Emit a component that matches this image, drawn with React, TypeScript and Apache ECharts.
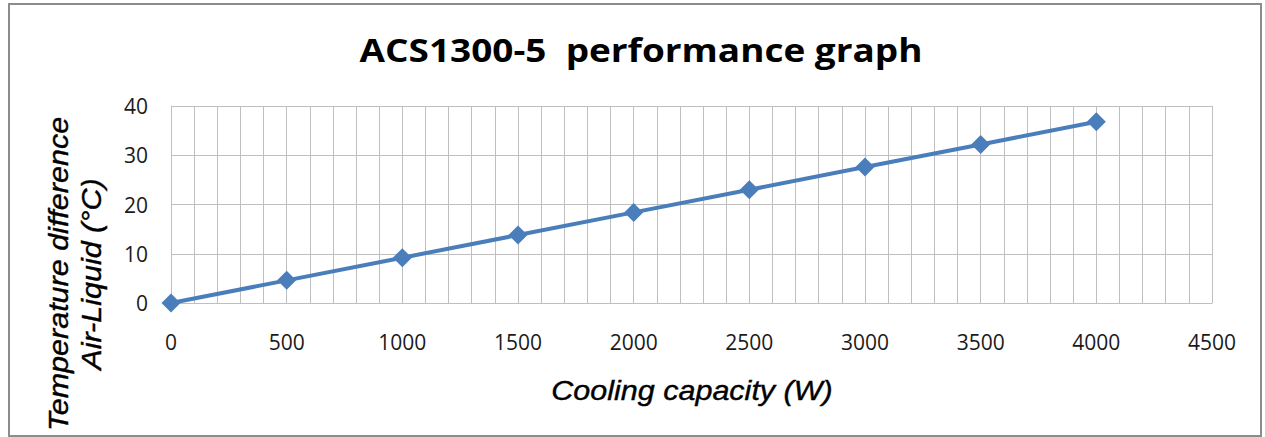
import React, { useEffect, useRef } from "react";
import * as echarts from "echarts";

const titleText = "ACS1300-5  performance graph";
const xAxisTitle = "Cooling capacity (W)";
const yAxisTitleLines = ["Temperature difference", "Air-Liquid (°C)"];

const coolingCapacity = [0, 500, 1000, 1500, 2000, 2500, 3000, 3500, 4000];
const tempDifference = [0, 4.6, 9.2, 13.8, 18.4, 23.0, 27.6, 32.2, 36.8];

const xMin = 0;
const xMax = 4500;
const xInterval = 500;
const yMin = 0;
const yMax = 40;
const yInterval = 10;

export default function App() {
  const ref = useRef<HTMLDivElement>(null);

  useEffect(() => {
    if (!ref.current) return;
    const chart = echarts.init(ref.current, null, { renderer: "svg" });
    const gridColor = "#BFBFBF";
    chart.setOption({
      animation: false,
      backgroundColor: "#ffffff",
      grid: { left: 171, top: 106, right: 53, bottom: 134, containLabel: false },
      xAxis: {
        type: "value",
        min: xMin,
        max: xMax,
        interval: xInterval,
        axisLine: { show: true, lineStyle: { color: gridColor, width: 1 } },
        axisTick: { show: false },
        minorTick: { show: false, splitNumber: 5 },
        minorSplitLine: { show: true, lineStyle: { color: gridColor, width: 1 } },
        splitLine: { show: true, lineStyle: { color: gridColor, width: 1 } },
        axisLabel: {
          margin: 28,
          fontFamily: "Open Sans",
          fontSize: 21,
          color: "#1a1a1a",
          showMinLabel: true,
          showMaxLabel: true,
          formatter: (v: number) => String(v),
        },
      },
      yAxis: {
        type: "value",
        min: yMin,
        max: yMax,
        interval: yInterval,
        axisLine: { show: true, lineStyle: { color: gridColor, width: 1 } },
        axisTick: { show: false },
        splitLine: { show: true, lineStyle: { color: gridColor, width: 1 } },
        axisLabel: {
          margin: 23,
          fontFamily: "Open Sans",
          fontSize: 21,
          color: "#1a1a1a",
          formatter: (v: number) => String(v),
        },
      },
      series: [
        {
          type: "line",
          data: coolingCapacity.map((x, i) => [x, tempDifference[i]]),
          symbol: "diamond",
          symbolSize: 19,
          showSymbol: true,
          lineStyle: { color: "#4A7EBB", width: 4 },
          itemStyle: { color: "#4A7EBB" },
          z: 5,
        },
      ],
      graphic: [
        {
          type: "rect",
          shape: { x: 9, y: 4, width: 1252, height: 432 },
          style: { fill: "none", stroke: "#8C8C8C", lineWidth: 2 },
          silent: true,
        },
        {
          type: "text",
          x: 641,
          y: 49,
          scaleX: 1.12,
          style: {
            text: titleText,
            x: 0,
            y: 0,
            align: "center",
            verticalAlign: "middle",
            fontFamily: "Open Sans",
            fontWeight: "bold",
            fontSize: 33,
            fill: "#000000",
          },
        },
        {
          type: "text",
          x: 692,
          y: 390,
          scaleX: 1.09,
          style: {
            text: xAxisTitle,
            x: 0,
            y: 0,
            align: "center",
            verticalAlign: "middle",
            fontFamily: "Liberation Sans",
            fontStyle: "italic",
            fontSize: 28,
            fill: "#000000",
            stroke: "#000000",
            lineWidth: 0.4,
          },
        },
        {
          type: "text",
          x: 74,
          y: 274,
          rotation: Math.PI / 2,
          scaleX: 1.09,
          style: {
            text: yAxisTitleLines.join("\n"),
            x: 0,
            y: 0,
            align: "center",
            verticalAlign: "middle",
            lineHeight: 33,
            fontFamily: "Liberation Sans",
            fontStyle: "italic",
            fontSize: 28,
            fill: "#000000",
            stroke: "#000000",
            lineWidth: 0.4,
          },
        },
      ],
    });
    return () => chart.dispose();
  }, []);

  return (
    <div
      ref={ref}
      style={{ position: "fixed", left: 0, top: 0, width: 1265, height: 437 }}
    />
  );
}
